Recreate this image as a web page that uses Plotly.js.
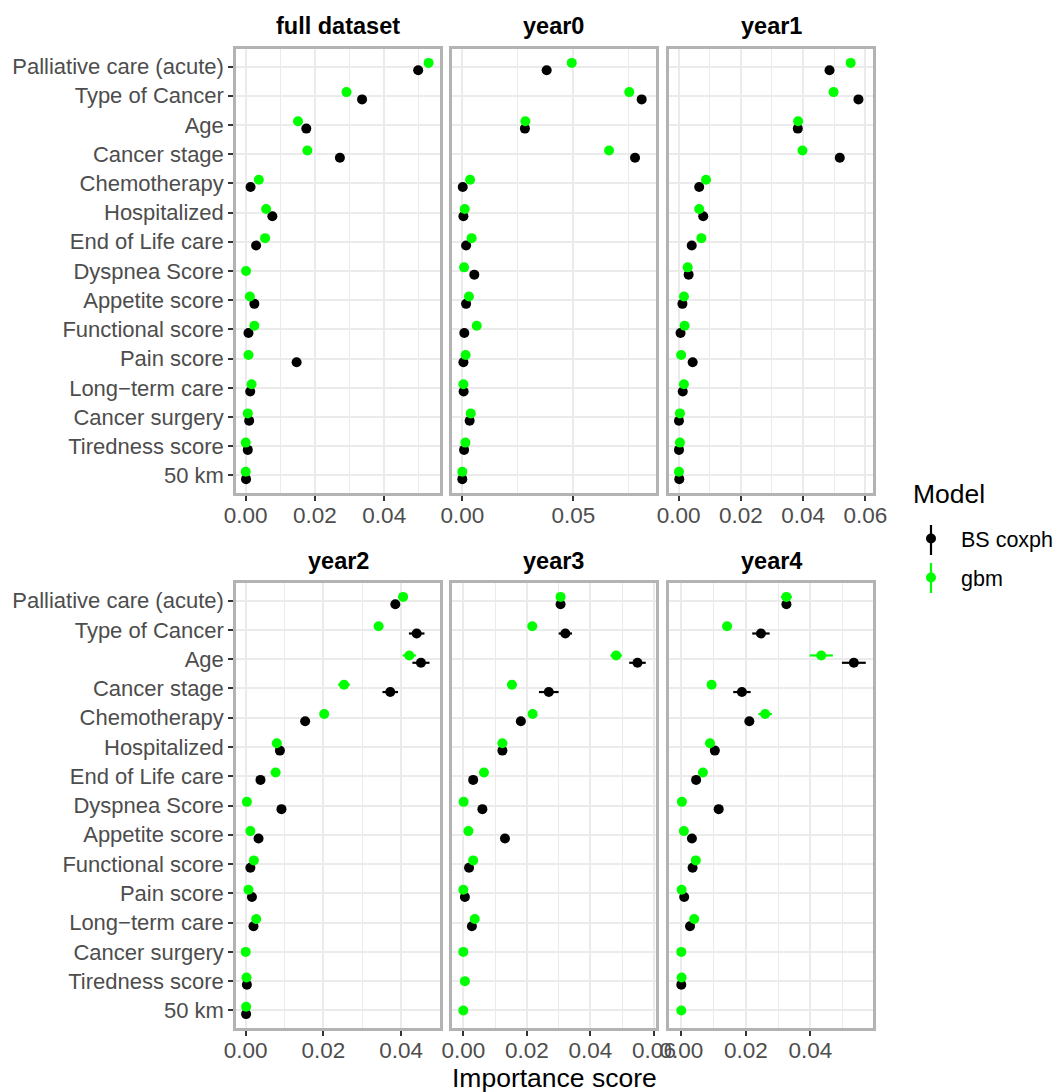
<!DOCTYPE html>
<html>
<head>
<meta charset="utf-8">
<script src="https://cdn.plot.ly/plotly-3.0.1.min.js"></script>
<style>
  html, body { margin: 0; padding: 0; background: #ffffff; }
  #chart { width: 1059px; height: 1092px; }
</style>
</head>
<body>
<div id="chart"></div>
<script>
// ---------------- data ----------------
const categories = [
  "Palliative care (acute)", "Type of Cancer", "Age", "Cancer stage", "Chemotherapy",
  "Hospitalized", "End of Life care", "Dyspnea Score", "Appetite score", "Functional score",
  "Pain score", "Long\u2212term care", "Cancer surgery", "Tiredness score", "50 km"
];
const panelNames = ["full dataset", "year0", "year1", "year2", "year3", "year4"];
const models = ["BS coxph", "gbm"];

const full_cox = [0.0498, 0.0336, 0.0175, 0.0272, 0.0014, 0.0077, 0.0030, null,   0.0025, 0.0008, 0.0147, 0.0013, 0.0010, 0.0006, 0.0001];
const full_gbm = [0.0528, 0.0291, 0.0151, 0.0178, 0.0038, 0.0059, 0.0056, 0.0001, 0.0012, 0.0025, 0.0008, 0.0017, 0.0006, 0.0000, 0.0000];
const year0_cox = [0.0380, 0.0808, 0.0282, 0.0778, 0.0002, 0.0005, 0.0017, 0.0054, 0.0017, 0.0009, 0.0005, 0.0006, 0.0033, 0.0008, 0.0000];
const year0_gbm = [0.0493, 0.0752, 0.0284, 0.0661, 0.0035, 0.0011, 0.0042, 0.0008, 0.0030, 0.0065, 0.0015, 0.0005, 0.0038, 0.0014, 0.0000];
const year1_cox = [0.0485, 0.0578, 0.0383, 0.0518, 0.0066, 0.0079, 0.0042, 0.0032, 0.0012, 0.0006, 0.0045, 0.0013, 0.0001, 0.0001, 0.0002];
const year1_gbm = [0.0553, 0.0498, 0.0384, 0.0398, 0.0088, 0.0066, 0.0073, 0.0029, 0.0017, 0.0019, 0.0008, 0.0017, 0.0004, 0.0004, 0.0001];
const year2_cox = [0.0385, 0.0440, 0.0451, 0.0372, 0.0153, 0.0088, 0.0038, 0.0092, 0.0033, 0.0012, 0.0016, 0.0020, null,   0.0003, 0.0001];
const year2_gbm = [0.0405, 0.0342, 0.0421, 0.0253, 0.0202, 0.0080, 0.0077, 0.0003, 0.0012, 0.0021, 0.0007, 0.0027, 0.0000, 0.0002, 0.0001];
const year3_cox = [0.0306, 0.0321, 0.0548, 0.0269, 0.0181, 0.0123, 0.0031, 0.0060, 0.0131, 0.0018, 0.0005, 0.0027, null,   null,   null  ];
const year3_gbm = [0.0306, 0.0217, 0.0481, 0.0153, 0.0218, 0.0123, 0.0065, 0.0001, 0.0016, 0.0031, 0.0000, 0.0036, 0.0000, 0.0005, 0.0000];
const year4_cox = [0.0326, 0.0247, 0.0535, 0.0188, 0.0211, 0.0104, 0.0046, 0.0116, 0.0033, 0.0035, 0.0009, 0.0027, null,   0.0000, null  ];
const year4_gbm = [0.0326, 0.0142, 0.0434, 0.0094, 0.0260, 0.0089, 0.0067, 0.0002, 0.0008, 0.0045, 0.0001, 0.0040, 0.0000, 0.0001, 0.0000];

// half-widths of the intervals
const full_cox_err  = [0.0002, 0.0002, 0.0002, 0.0002, 0.0001, 0.0001, 0.0001, null,   0.0001, 0.0001, 0.0002, 0.0001, 0.0001, 0.0001, 0.0001];
const full_gbm_err  = [0.0002, 0.0002, 0.0002, 0.0002, 0.0001, 0.0001, 0.0001, 0.0001, 0.0001, 0.0001, 0.0001, 0.0001, 0.0001, 0.0001, 0.0001];
const year0_cox_err = [0.0003, 0.0003, 0.0003, 0.0003, 0.0001, 0.0001, 0.0001, 0.0001, 0.0001, 0.0001, 0.0001, 0.0001, 0.0001, 0.0001, 0.0001];
const year0_gbm_err = [0.0003, 0.0003, 0.0003, 0.0003, 0.0001, 0.0001, 0.0001, 0.0001, 0.0001, 0.0001, 0.0001, 0.0001, 0.0001, 0.0001, 0.0001];
const year1_cox_err = [0.0004, 0.0008, 0.0004, 0.0008, 0.0002, 0.0002, 0.0002, 0.0002, 0.0001, 0.0001, 0.0002, 0.0001, 0.0001, 0.0001, 0.0001];
const year1_gbm_err = [0.0004, 0.0008, 0.0004, 0.0004, 0.0002, 0.0002, 0.0002, 0.0001, 0.0001, 0.0001, 0.0001, 0.0001, 0.0001, 0.0001, 0.0001];
const year2_cox_err = [0.0005, 0.0020, 0.0022, 0.0020, 0.0004, 0.0003, 0.0002, 0.0003, 0.0002, 0.0001, 0.0001, 0.0002, null,   0.0001, 0.0001];
const year2_gbm_err = [0.0012, 0.0008, 0.0017, 0.0015, 0.0006, 0.0003, 0.0002, 0.0001, 0.0001, 0.0001, 0.0001, 0.0002, 0.0001, 0.0001, 0.0001];
const year3_cox_err = [0.0005, 0.0021, 0.0026, 0.0031, 0.0004, 0.0003, 0.0002, 0.0002, 0.0003, 0.0001, 0.0001, 0.0002, null,   null,   null  ];
const year3_gbm_err = [0.0006, 0.0005, 0.0018, 0.0015, 0.0005, 0.0004, 0.0002, 0.0001, 0.0001, 0.0001, 0.0001, 0.0002, 0.0001, 0.0001, 0.0001];
const year4_cox_err = [0.0005, 0.0027, 0.0037, 0.0027, 0.0005, 0.0004, 0.0002, 0.0003, 0.0002, 0.0002, 0.0001, 0.0002, null,   0.0001, null  ];
const year4_gbm_err = [0.0017, 0.0005, 0.0036, 0.0005, 0.0021, 0.0004, 0.0003, 0.0001, 0.0001, 0.0002, 0.0001, 0.0003, 0.0001, 0.0001, 0.0001];

const panelData = [
  [full_cox, full_gbm, full_cox_err, full_gbm_err],
  [year0_cox, year0_gbm, year0_cox_err, year0_gbm_err],
  [year1_cox, year1_gbm, year1_cox_err, year1_gbm_err],
  [year2_cox, year2_gbm, year2_cox_err, year2_gbm_err],
  [year3_cox, year3_gbm, year3_cox_err, year3_gbm_err],
  [year4_cox, year4_gbm, year4_cox_err, year4_gbm_err]
];
const xTickStep = [0.02, 0.05, 0.02, 0.02, 0.02, 0.02];
const xRanges = [
  [-0.0028, 0.0561], [-0.00464, 0.08725], [-0.00311, 0.06248],
  [-0.0025, 0.0500], [-0.00356, 0.06063], [-0.00381, 0.05944]
];

// ---------------- styling / layout ----------------
const W = 1059, H = 1092;
const colors = ["#000000", "#00ff00"];
const FONT = "Liberation Sans, Arial, Helvetica, sans-serif";
const colPx = [[236, 440], [452, 656], [669, 873]];
const rowPx = [[49, 493], [583, 1028]];
const stripPx = [26, 561];
const nCat = categories.length;
const dodge = 0.125;

const traces = [];
const layout = {
  width: W, height: H,
  margin: {l: 0, r: 0, t: 0, b: 0},
  paper_bgcolor: "#ffffff",
  plot_bgcolor: "#ffffff",
  font: {family: FONT, color: "#4d4d4d", size: 21.5},
  showlegend: true,
  legend: {
    x: 901 / W, y: 1 - 518 / H, xanchor: "left", yanchor: "top",
    font: {size: 21.5, color: "#000000", family: FONT},
    itemwidth: 50,
    traceorder: "grouped", tracegroupgap: 8,
    bgcolor: "rgba(0,0,0,0)", borderwidth: 0
  },
  annotations: [],
  shapes: []
};

const tickvals = categories.map((c, i) => nCat - i);

for (let k = 0; k < 6; k++) {
  const col = k % 3, row = Math.floor(k / 3);
  const ax = k === 0 ? "" : String(k + 1);
  const xa = "xaxis" + ax, ya = "yaxis" + ax;
  const [cox, gbm, coxErr, gbmErr] = panelData[k];
  const series = [cox, gbm];
  const errs = [coxErr, gbmErr];
  for (let m = 0; m < 2; m++) {
    const vals = series[m];
    const xs = [], ys = [], es = [];
    vals.forEach((v, i) => {
      if (v === null) return;
      const bothPresent = cox[i] !== null && gbm[i] !== null;
      const off = bothPresent ? (m === 0 ? -dodge : dodge) : 0;
      xs.push(v);
      ys.push(nCat - i + off);
      es.push(errs[m][i]);
    });
    traces.push({
      type: "scatter", mode: "markers",
      x: xs, y: ys,
      xaxis: "x" + ax, yaxis: "y" + ax,
      name: models[m],
      legendgroup: models[m],
      showlegend: k === 0,
      marker: {color: colors[m], size: 10, line: {width: 0}},
      error_x: {type: "data", array: es, visible: true, width: 0, thickness: 2.2, color: colors[m]},
      hoverinfo: "x+name"
    });
  }
  const step = xTickStep[k];
  layout[xa] = {
    domain: [colPx[col][0] / W, colPx[col][1] / W],
    anchor: "y" + ax,
    range: xRanges[k],
    tickmode: "linear", tick0: 0, dtick: step,
    tickformat: ".2f",
    ticks: "outside", ticklen: 5, tickwidth: 1.8, tickcolor: "#333333",
    ticklabelstandoff: -5,
    tickfont: {size: 22.5, color: "#4d4d4d", family: FONT},
    showgrid: true, gridcolor: "#ebebeb", gridwidth: 1.6,
    minor: {tickmode: "linear", tick0: step / 2, dtick: step, showgrid: true, gridcolor: "#ebebeb", gridwidth: 1.1, ticks: ""},
    zeroline: false,
    showline: true, mirror: true, linecolor: "#b3b3b3", linewidth: 2.5,
    fixedrange: true
  };
  layout[ya] = {
    domain: [1 - rowPx[row][1] / H, 1 - rowPx[row][0] / H],
    anchor: "x" + ax,
    range: [0.4, nCat + 0.6],
    tickmode: "array", tickvals: tickvals, ticktext: categories,
    showticklabels: col === 0,
    ticks: col === 0 ? "outside" : "",
    ticklen: 5, tickwidth: 1.8, tickcolor: "#333333",
    tickfont: {size: 22, color: "#4d4d4d", family: FONT},
    showgrid: true, gridcolor: "#ebebeb", gridwidth: 1.6,
    zeroline: false,
    showline: true, mirror: true, linecolor: "#b3b3b3", linewidth: 2.5,
    fixedrange: true
  };
  layout.annotations.push({
    text: "<b>" + panelNames[k] + "</b>",
    xref: "paper", yref: "paper",
    x: (colPx[col][0] + colPx[col][1]) / 2 / W,
    y: 1 - stripPx[row] / H,
    xanchor: "center", yanchor: "middle",
    showarrow: false,
    font: {size: 23.5, color: "#000000", family: FONT}
  });
}

// axis title
layout.annotations.push({
  text: "Importance score",
  xref: "paper", yref: "paper",
  x: (colPx[0][0] + colPx[2][1]) / 2 / W,
  y: 1 - 1078 / H,
  xanchor: "center", yanchor: "middle",
  showarrow: false,
  font: {size: 26.5, color: "#000000", family: FONT}
});
// legend title
layout.annotations.push({
  text: "Model",
  xref: "paper", yref: "paper",
  x: 911 / W, y: 1 - 494 / H,
  xanchor: "left", yanchor: "middle",
  showarrow: false,
  font: {size: 26.5, color: "#000000", family: FONT}
});
// vertical range strokes of the legend keys (pointrange glyph)
const keyRows = [540, 578];
keyRows.forEach((yc, m) => {
  layout.shapes.push({
    type: "line", xref: "paper", yref: "paper",
    x0: 931 / W, x1: 931 / W,
    y0: 1 - (yc - 15) / H, y1: 1 - (yc + 15) / H,
    line: {color: colors[m], width: 2.2}
  });
});

Plotly.newPlot("chart", traces, layout, {displayModeBar: false, staticPlot: false});
</script>
</body>
</html>
